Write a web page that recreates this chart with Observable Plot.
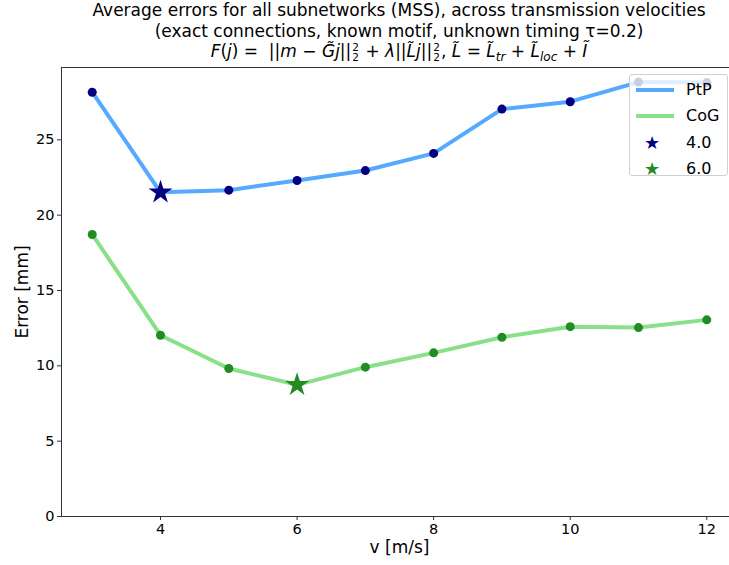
<!DOCTYPE html>
<html>
<head>
<meta charset="utf-8">
<script src="https://cdn.jsdelivr.net/npm/d3@7"></script>
<script src="https://cdn.jsdelivr.net/npm/@observablehq/plot@0.6"></script>
<style>
  html, body { margin: 0; padding: 0; background: #fff; overflow: hidden; }
  body { width: 729px; height: 565px; position: relative; font-family: "DejaVu Sans", sans-serif; color: #000; }
  #wrap { width: 729px; height: 565px; overflow: hidden; position: relative; }
  #title { position: absolute; left: 61px; top: 0; width: 676px; height: 62px; text-align: center; font-size: 17px; line-height: 20.5px; }
  #title .m { white-space: nowrap; height: 21px; }
  .ss { display: inline-block; font-size: 10.5px; line-height: 10px; vertical-align: -4px; margin: 0 1px; text-align: left; }
  .sb { font-size: 12px; position: relative; top: 4px; font-style: italic; }
  #chart { position: absolute; left: 0; top: 62px; width: 738px; }
  #chart svg { max-width: none !important; width: 738px; height: 503px; }
  #chart svg text { font-family: "DejaVu Sans", sans-serif; }
  g[aria-label="y-axis label"] text, g[aria-label="x-axis label"] text { font-size: 17px; }
  #legend { position: absolute; left: 629px; top: 74px; width: 99px; height: 102px; box-sizing: border-box;
            background: rgba(255,255,255,0.8); border: 1px solid #d0d0d0; border-radius: 3px; font-size: 16px; }
  #legend .row { position: absolute; left: 0; height: 26px; width: 98px; }
  #legend .h { position: absolute; left: 6px; width: 38px; top: 11px; height: 4px; }
  #legend .s { position: absolute; left: 14px; top: 3px; font-size: 18px; line-height: 20px; }
  #legend .lab { position: absolute; left: 56px; top: 3px; line-height: 20px; }
</style>
</head>
<body>
<div id="wrap">
<div id="chart"></div>
<div id="title">
  <div>Average errors for all subnetworks (MSS), across transmission velocities</div>
  <div>(exact connections, known motif, unknown timing τ=0.2)</div>
  <div class="m"><i>F</i>(<i>j</i>) =&nbsp; ||<i>m</i> − <i>G̃j</i>||<span class="ss">2<br>2</span> + <i>λ</i>||<i>L̃j</i>||<span class="ss">2<br>2</span>, <i>L̃</i> = <i>L̃</i><span class="sb">tr</span> + <i>L̃</i><span class="sb">loc</span> + <i>Ĩ</i></div>
</div>
<div id="legend"></div>
</div>
<script>
// ---- data ----
const velocities = [3, 4, 5, 6, 7, 8, 9, 10, 11, 12];
const ptpErrors = [28.16, 21.52, 21.66, 22.30, 22.96, 24.10, 27.04, 27.53, 28.83, 28.80];
const cogErrors = [18.72, 12.03, 9.82, 8.74, 9.91, 10.86, 11.90, 12.60, 12.54, 13.05];
const seriesNames = ["PtP", "CoG"];
const bestLabels = ["4.0", "6.0"];
const xTicks = [4, 6, 8, 10, 12];
const yTicks = [0, 5, 10, 15, 20, 25];

const lineColors = ["#55aaff", "#88e088"];
const dotColors = ["#000080", "#228b22"];

const rows = velocities.map((v, i) => ({v, ptp: ptpErrors[i], cog: cogErrors[i]}));
const bestPtp = rows.filter(d => d.v.toFixed(1) === bestLabels[0]);
const bestCog = rows.filter(d => d.v.toFixed(1) === bestLabels[1]);
const otherPtp = rows.filter(d => !bestPtp.includes(d));
const otherCog = rows.filter(d => !bestCog.includes(d));

const axisColor = "#333";
const chart = Plot.plot({
  width: 738,
  height: 503,
  marginLeft: 61,
  marginRight: 1,
  marginTop: 5,
  marginBottom: 49,
  style: {fontSize: "14.5px", fontFamily: "DejaVu Sans, sans-serif", color: "#000", background: "#fff"},
  x: {domain: [2.55, 12.45]},
  y: {domain: [0, 29.8]},
  marks: [
    Plot.axisY({ticks: yTicks, tickSize: 4, tickPadding: 3, label: "Error [mm]", labelAnchor: "center", labelArrow: "none", labelOffset: 46, stroke: axisColor}),
    Plot.axisX({ticks: xTicks, tickSize: 4, tickPadding: 3, label: "v [m/s]", labelAnchor: "center", labelArrow: "none", labelOffset: 36, stroke: axisColor}),
    Plot.frame({anchor: "left", stroke: axisColor}),
    Plot.frame({anchor: "bottom", stroke: axisColor}),
    Plot.frame({anchor: "top", stroke: axisColor}),
    Plot.frame({anchor: "right", stroke: axisColor}),
    Plot.line(rows, {x: "v", y: "ptp", stroke: lineColors[0], strokeWidth: 4}),
    Plot.line(rows, {x: "v", y: "cog", stroke: lineColors[1], strokeWidth: 4}),
    Plot.dot(otherPtp, {x: "v", y: "ptp", r: 4.5, fill: dotColors[0]}),
    Plot.dot(otherCog, {x: "v", y: "cog", r: 4.5, fill: dotColors[1]}),
    Plot.dot(bestPtp, {x: "v", y: "ptp", r: 7.5, symbol: "star", fill: dotColors[0]}),
    Plot.dot(bestCog, {x: "v", y: "cog", r: 7.5, symbol: "star", fill: dotColors[1]})
  ]
});
document.getElementById("chart").appendChild(chart);

// legend
const legend = document.getElementById("legend");
const items = [
  {label: seriesNames[0], kind: "line", color: lineColors[0]},
  {label: seriesNames[1], kind: "line", color: lineColors[1]},
  {label: bestLabels[0], kind: "star", color: dotColors[0]},
  {label: bestLabels[1], kind: "star", color: dotColors[1]}
];
items.forEach((it, i) => {
  const row = document.createElement("div");
  row.className = "row";
  row.style.top = (2 + i * 26.3) + "px";
  if (it.kind === "line") {
    const h = document.createElement("div");
    h.className = "h"; h.style.background = it.color;
    row.appendChild(h);
  } else {
    const s = document.createElement("div");
    s.className = "s"; s.style.color = it.color; s.textContent = "★";
    row.appendChild(s);
  }
  const t = document.createElement("div");
  t.className = "lab"; t.textContent = it.label;
  row.appendChild(t);
  legend.appendChild(row);
});
</script>
</body>
</html>
